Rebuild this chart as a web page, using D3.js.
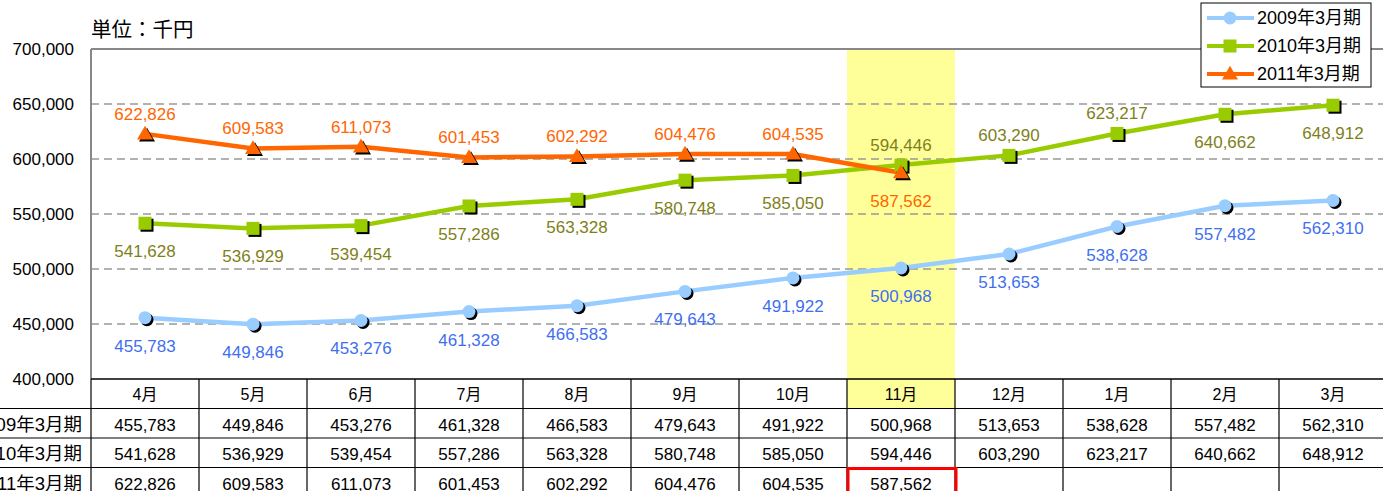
<html>

<head>
    <script src="https://d3js.org/d3.v7.min.js"></script>
    <style>
        body {
            margin: 0;
            background: #fff;
        }

        text {
            font-family: "Liberation Sans", Arial, "Noto Sans CJK JP", sans-serif;
        }
    </style>
</head>

<body>
    <svg id="chartArea" height="491" width="1383"></svg>
    <script>
        // data
        const months = ["4月", "5月", "6月", "7月", "8月", "9月", "10月", "11月", "12月", "1月", "2月", "3月"];
        const seriesNames = ["2009年3月期", "2010年3月期", "2011年3月期"];
        const fy2009 = [455783, 449846, 453276, 461328, 466583, 479643, 491922, 500968, 513653, 538628, 557482, 562310];
        const fy2010 = [541628, 536929, 539454, 557286, 563328, 580748, 585050, 594446, 603290, 623217, 640662, 648912];
        const fy2011 = [622826, 609583, 611073, 601453, 602292, 604476, 604535, 587562];
        // which labels sit above the point (1) or below (-1)
        const pos2009 = [-1, -1, -1, -1, -1, -1, -1, -1, -1, -1, -1, -1];
        const pos2010 = [-1, -1, -1, -1, -1, -1, -1, 1, 1, 1, -1, -1];
        const pos2011 = [1, 1, 1, 1, 1, 1, 1, -1];
        const yTicks = [400000, 450000, 500000, 550000, 600000, 650000, 700000];
        const highlightMonth = "11月";

        const svg = d3.select("#chartArea");
        const margins = { top: 49, left: 91 };
        const colWidth = 108;
        const chartWidth = colWidth * months.length;
        const chartHeight = 330;
        const rowH = 29.5;

        const fmt = d3.format(",");

        const series = [
            { name: seriesNames[0], values: fy2009, pos: pos2009, line: "#99ccff", label: "#3f6ff0", shape: "circle" },
            { name: seriesNames[1], values: fy2010, pos: pos2010, line: "#99cc00", label: "#7f7f1a", shape: "square" },
            { name: seriesNames[2], values: fy2011, pos: pos2011, line: "#ff6600", label: "#ff6600", shape: "triangle" }
        ];

        const xScale = d3.scaleBand()
            .domain(months)
            .range([0, chartWidth]);

        const yScale = d3.scaleLinear()
            .domain([400000, 700000])
            .range([chartHeight, 0]);

        const chartArea = svg.append("g")
            .attr("transform", `translate(${margins.left},${margins.top})`);

        // highlighted month band
        chartArea.append("rect")
            .attr("x", xScale(highlightMonth))
            .attr("y", 0)
            .attr("width", xScale.bandwidth())
            .attr("height", chartHeight + rowH)
            .attr("fill", "#ffff99");

        // dashed gridlines
        chartArea.selectAll(".grid")
            .data(yTicks.filter(d => d > 400000 && d < 700000))
            .join("line")
            .attr("class", "grid")
            .attr("x1", 0)
            .attr("x2", chartWidth)
            .attr("y1", d => yScale(d))
            .attr("y2", d => yScale(d))
            .attr("stroke", "#999")
            .attr("stroke-width", 1.3)
            .attr("stroke-dasharray", "8,5");

        // plot frame (top and left)
        chartArea.append("line")
            .attr("x1", 0).attr("x2", chartWidth)
            .attr("y1", 0).attr("y2", 0)
            .attr("stroke", "#888").attr("stroke-width", 2);
        chartArea.append("line")
            .attr("x1", 0).attr("x2", 0)
            .attr("y1", 0).attr("y2", chartHeight)
            .attr("stroke", "#888").attr("stroke-width", 2);

        // y axis labels
        let leftAxis = d3.axisLeft(yScale)
            .tickValues(yTicks)
            .tickFormat(fmt)
            .tickSize(0)
            .tickPadding(17);
        const yAxisG = chartArea.append("g").call(leftAxis);
        yAxisG.select(".domain").remove();
        yAxisG.selectAll("text")
            .attr("font-size", 17)
            .attr("fill", "#000")
            .style("font-family", "'Liberation Sans', Arial, sans-serif");

        svg.append("text")
            .attr("x", 91)
            .attr("y", 37)
            .attr("font-size", 20.5)
            .attr("fill", "#000")
            .text("単位：千円");

        // lines and markers
        const cx = m => xScale(m) + xScale.bandwidth() / 2;
        const lineGenerator = d3.line()
            .x((d, i) => cx(months[i]))
            .y(d => yScale(d));

        function marker(g, shape, color, dx, dy) {
            if (shape === "circle") {
                g.append("circle").attr("cx", dx).attr("cy", dy).attr("r", 6.5).attr("fill", color);
            } else if (shape === "square") {
                g.append("rect").attr("x", dx - 6.5).attr("y", dy - 6.5).attr("width", 13).attr("height", 13).attr("fill", color);
            } else {
                g.append("path").attr("d", d3.symbol(d3.symbolTriangle, 110)())
                    .attr("transform", `translate(${dx},${dy + 1})`).attr("fill", color);
            }
        }

        series.forEach(s => {
            chartArea.append("path")
                .attr("d", lineGenerator(s.values))
                .attr("fill", "none")
                .attr("stroke", s.line)
                .attr("stroke-width", 4.5);
        });

        series.forEach(s => {
            s.values.forEach((v, i) => {
                const g = chartArea.append("g")
                    .attr("transform", `translate(${cx(months[i])},${yScale(v)})`);
                marker(g, s.shape, "#000", 2, 2);
                marker(g, s.shape, s.line, 0, 0);
            });
        });

        series.forEach(s => {
            chartArea.selectAll(null)
                .data(s.values)
                .join("text")
                .attr("x", (d, i) => cx(months[i]))
                .attr("y", (d, i) => yScale(d) + (s.pos[i] > 0 ? -14 : 34))
                .attr("text-anchor", "middle")
                .attr("font-size", 17)
                .attr("fill", s.label)
                .text(d => fmt(d));
        });

        // data table
        const table = chartArea.append("g")
            .attr("transform", `translate(0,${chartHeight})`);
        const rowTop = i => i * rowH;

        table.selectAll(".hdr")
            .data(months)
            .join("text")
            .attr("x", d => cx(d))
            .attr("y", rowTop(0) + 21)
            .attr("text-anchor", "middle")
            .attr("font-size", 16)
            .attr("fill", "#000")
            .text(d => d);

        series.forEach((s, r) => {
            table.append("text")
                .attr("x", -9)
                .attr("y", rowTop(r + 1) + 22)
                .attr("text-anchor", "end")
                .attr("font-size", 18.5)
                .attr("fill", "#000")
                .text(s.name);
            table.selectAll(null)
                .data(s.values)
                .join("text")
                .attr("x", (d, i) => cx(months[i]))
                .attr("y", rowTop(r + 1) + 22)
                .attr("text-anchor", "middle")
                .attr("font-size", 17)
                .attr("fill", "#000")
                .text(d => fmt(d));
        });

        // table grid
        table.append("line")
            .attr("x1", 0).attr("x2", chartWidth)
            .attr("y1", 0).attr("y2", 0)
            .attr("stroke", "#000").attr("stroke-width", 1.5);
        [1, 2, 3].forEach(r => {
            table.append("line")
                .attr("x1", -margins.left).attr("x2", chartWidth)
                .attr("y1", rowTop(r)).attr("y2", rowTop(r))
                .attr("stroke", "#000").attr("stroke-width", 1.2);
        });
        table.selectAll(".vline")
            .data(d3.range(months.length + 1))
            .join("line")
            .attr("x1", d => d * colWidth)
            .attr("x2", d => d * colWidth)
            .attr("y1", 0)
            .attr("y2", rowH * 4)
            .attr("stroke", "#000")
            .attr("stroke-width", 1.2);

        // red box around the latest 2011 value
        table.append("rect")
            .attr("x", xScale(highlightMonth) + 1)
            .attr("y", rowTop(3) + 1)
            .attr("width", xScale.bandwidth())
            .attr("height", rowH + 5)
            .attr("fill", "none")
            .attr("stroke", "#ff0000")
            .attr("stroke-width", 3);

        // legend
        const legend = svg.append("g").attr("transform", "translate(1201,3)");
        legend.append("rect")
            .attr("width", 170)
            .attr("height", 84)
            .attr("fill", "#fff")
            .attr("stroke", "#000")
            .attr("stroke-width", 1);
        series.forEach((s, i) => {
            const ly = 15 + i * 28;
            legend.append("line")
                .attr("x1", 6).attr("x2", 53)
                .attr("y1", ly).attr("y2", ly)
                .attr("stroke", s.line).attr("stroke-width", 4);
            const mg = legend.append("g").attr("transform", `translate(29,${ly})`);
            marker(mg, s.shape, s.line, 0, 0);
            legend.append("text")
                .attr("x", 56)
                .attr("y", ly + 6)
                .attr("font-size", 18)
                .attr("fill", "#000")
                .text(s.name);
        });
    </script>
</body>

</html>
